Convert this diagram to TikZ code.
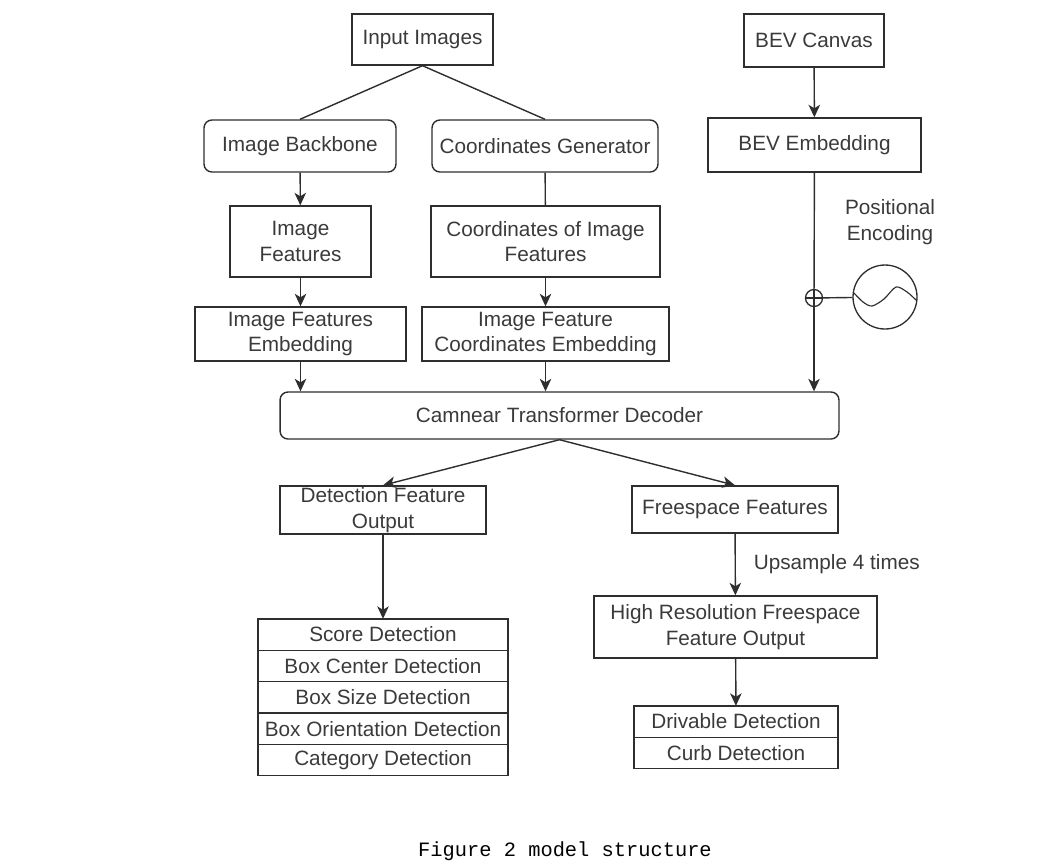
\documentclass[tikz,border=0pt]{standalone}
\usepackage{fontspec}
\setmainfont{Liberation Sans}
\setmonofont{Liberation Mono}
\usetikzlibrary{arrows.meta,positioning}
\definecolor{ink}{HTML}{2E2E2E}
\definecolor{txt}{HTML}{3A3A3A}
\tikzset{every node/.style={font=\fontsize{11.8}{14.7}\selectfont,text=txt},
 block/.style={draw=ink,line width=.8pt,align=center,inner sep=0pt},
 rblock/.style={block,rounded corners=4.5pt},
 cell/.style={block,outer sep=0pt,minimum height=.628cm},
 link/.style={-{Stealth[length=2.5mm,width=2.3mm,inset=.7mm]},draw=ink,line width=.8pt},
 wire/.style={draw=ink,line width=.8pt}}

\begin{document}
\begin{tikzpicture}[x=0.02cm,y=-0.02cm]

\useasboundingbox (0,0) rectangle (1054,867);
% top row
\node[block,minimum width=2.82cm,minimum height=1.02cm] (input) at (422.5,39.5) {Input Images};
\node[block,minimum width=2.80cm,minimum height=1.06cm] (canvas) at (814,40.5) {BEV Canvas};
\node[rblock,minimum width=3.84cm,minimum height=1.04cm] (backbone) at (300,146) {Image Backbone};
\node[rblock,minimum width=4.52cm,minimum height=1.04cm] (coordgen) at (545,146) {Coordinates Generator};
\node[block,minimum width=4.26cm,minimum height=1.08cm] (bevemb) at (814.5,145) {BEV Embedding};
\node[block,minimum width=2.82cm,minimum height=1.42cm] (imgfeat) at (300.5,241.5) {Image\\Features};
\node[block,minimum width=4.58cm,minimum height=1.42cm] (coordfeat) at (545.5,241.5) {Coordinates of Image\\Features};
\node[block,minimum width=4.22cm,minimum height=1.08cm] (imgemb) at (300.5,334) {Image Features\\Embedding};
\node[block,minimum width=4.94cm,minimum height=1.08cm] (coordemb) at (545.5,334) {Image Feature\\Coordinates Embedding};
\node[align=center] (pelabel) at (890,222) {Positional\\Encoding};
\node[circle,draw=ink,line width=.75pt,minimum size=.34cm,inner sep=0pt,
 path picture={\draw[ink,line width=.6pt] (path picture bounding box.north)--(path picture bounding box.south)
 (path picture bounding box.west)--(path picture bounding box.east);}] (plus) at (814,298) {};
\node[circle,draw=ink,line width=.75pt,minimum size=1.28cm,inner sep=0pt] (wave) at (885,297) {};
\draw[ink,line width=.65pt,shift={(wave.center)}] plot[smooth] coordinates {(-31,-4) (-22,5) (-13,9) (-1,2) (11,-10) (22,-5) (31,3)};
\node[rblock,minimum width=11.18cm,minimum height=.94cm] (dec) at (559.5,415.5) {Camnear Transformer Decoder};

% heads
\node[block,minimum width=4.12cm,minimum height=.96cm] (detout) at (383,510) {Detection Feature\\Output};
\node[block,minimum width=4.12cm,minimum height=.94cm] (fsfeat) at (735,509.5) {Freespace Features};
\node[block,minimum width=5.66cm,minimum height=1.24cm] (hires) at (735.5,627) {High Resolution Freespace\\Feature Output};

\node[cell,minimum width=5cm] (score) at (383,634.5) {Score Detection};
\node[cell,minimum width=5cm,below=0pt of score] (center) {Box Center Detection};
\node[cell,minimum width=5cm,below=0pt of center] (size) {Box Size Detection};
\node[cell,minimum width=5cm,below=0pt of size] (orient) {Box Orientation Detection};
\node[cell,minimum width=5cm,below=0pt of orient] (cat) {Category Detection};

\node[cell,minimum width=4.08cm] (drive) at (736,721.5) {Drivable Detection};
\node[cell,minimum width=4.08cm,below=0pt of drive] (curb) {Curb Detection};

\node[font=\ttfamily\fontsize{11.6}{14}\selectfont,text=black] (caption) at (565,851) {Figure 2 model structure};

% connectors
\draw[wire] (input.south) -- (backbone.north);
\draw[wire] (input.south) -- (coordgen.north);
\draw[link] (backbone) -- (imgfeat);
\draw[wire] (coordgen) -- (coordfeat);
\draw[link] (imgfeat) -- (imgemb);
\draw[link] (coordfeat) -- (coordemb);
\draw[link] (imgemb.south) -- (imgemb.south |- dec.north);
\draw[link] (coordemb.south) -- (coordemb.south |- dec.north);
\draw[link] (canvas) -- (bevemb);
\draw[wire] (bevemb) -- (plus);
\draw[wire] (plus) -- (wave);
\draw[link] (plus) -- (plus |- dec.north);
\draw[link] (dec.south) -- (detout.north);
\draw[link] (dec.south) -- (fsfeat.north);
\draw[link] (detout) -- (score);
\draw[link] (fsfeat) -- node[right=0.24cm]{Upsample 4 times} (hires);
\draw[link] (hires) -- (drive);

\end{tikzpicture}
\end{document}
